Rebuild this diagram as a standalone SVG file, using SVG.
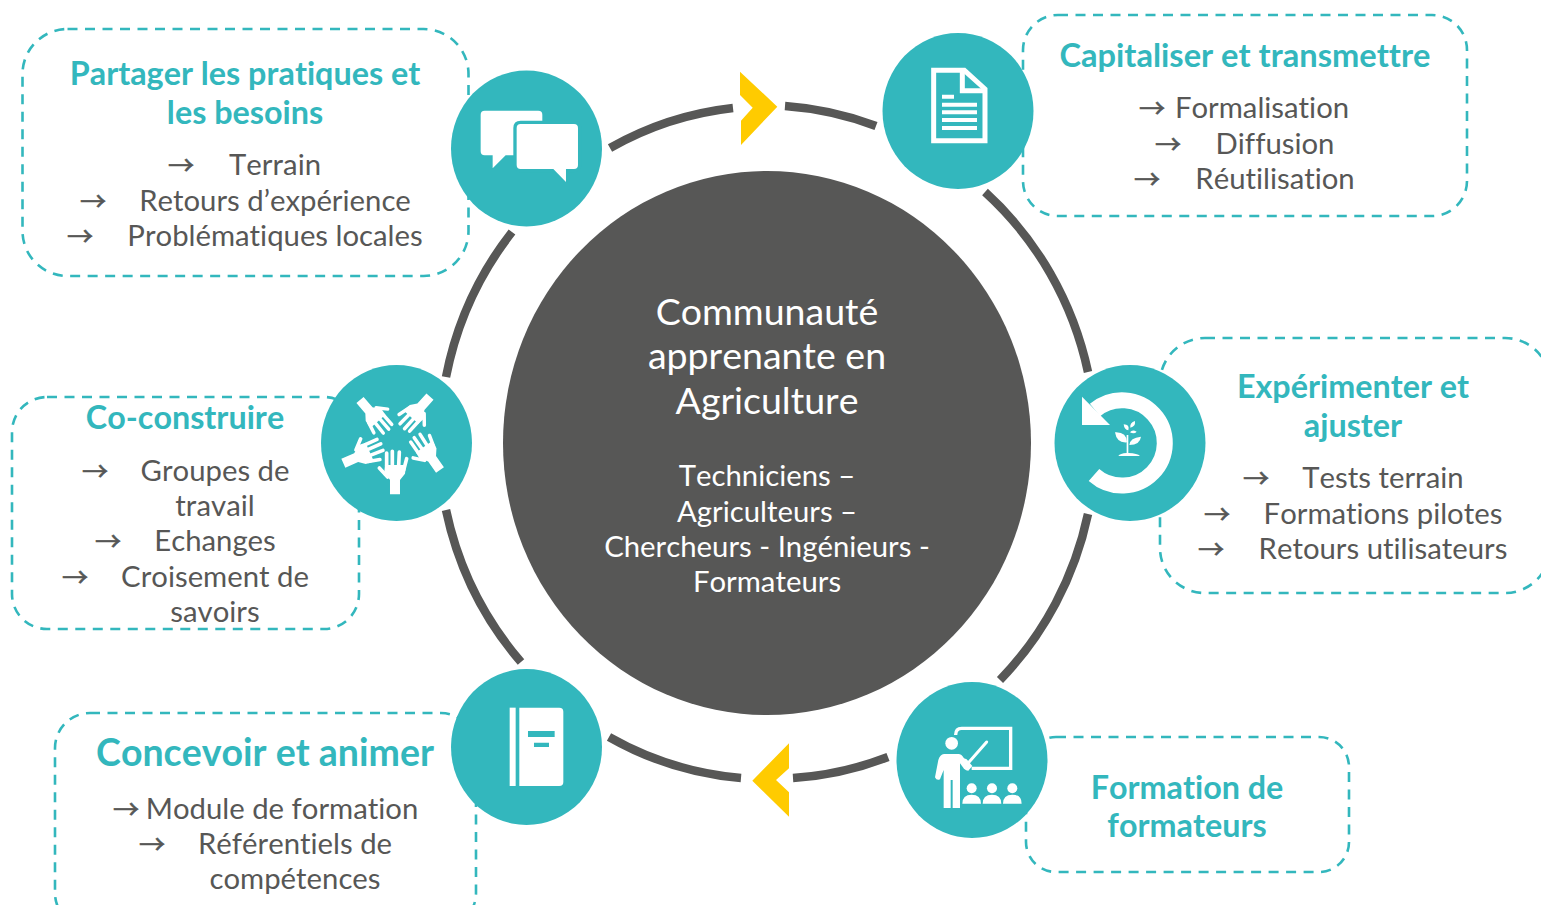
<svg xmlns="http://www.w3.org/2000/svg" width="1541" height="905" viewBox="0 0 1541 905">
<defs>
<style>
text{font-family:Lato,"Noto Sans",sans-serif;text-anchor:middle;font-kerning:none;font-variant-ligatures:none}
.h{fill:#33b7bd;font-weight:700;font-size:32.3px}
.b{fill:#575756;font-size:29.3px}
.a{fill:#575756;stroke:#575756;stroke-width:.6;font-size:26px;font-family:"Noto Sans CJK SC",sans-serif}
.c{fill:#fff;font-size:37.5px}
.d{fill:#fff;font-size:29.3px}
.box{fill:none;stroke:#33b7bd;stroke-width:2.6;stroke-dasharray:10 7.500}
.ic{fill:#33b7bd}
.w{fill:#fff}
.arc{fill:none;stroke:#575756;stroke-width:8.5}
</style>
<g id="hand">
<path class="w" d="M-15 0H15V-43L30 -62L33 -88H-30L-32 -68L-15 -43Z"/>
<path d="M-25 -85L-25 -124M-8 -85V-129M11 -85L13 -127M26 -72L35 -107M-22 -52L-47 -79" fill="none" stroke="#fff" stroke-width="11" stroke-linecap="round"/>
</g>
</defs>
<g id="box-partager"><rect class="box" x="22.500" y="29" width="446" height="247" rx="45"/></g>
<g id="box-capitaliser"><rect class="box" x="1023" y="15" width="444" height="201" rx="35"/></g>
<g id="box-experimenter"><rect class="box" x="1160" y="338" width="390" height="255" rx="45"/></g>
<g id="box-coconstruire"><rect class="box" x="12" y="397" width="347" height="232" rx="35"/></g>
<g id="box-concevoir"><rect class="box" x="55" y="713" width="421" height="215" rx="35"/></g>
<g id="box-formation"><rect class="box" x="1026" y="737" width="323" height="135" rx="30"/></g>

<g id="connectors">
<path class="arc" d="M610 148A328 337 0 0 1 733 108"/>
<path class="arc" d="M785 106A328 337 0 0 1 876 126"/>
<path class="arc" d="M985 192A328 337 0 0 1 1088 372"/>
<path class="arc" d="M1088 514A328 337 0 0 1 1000 680"/>
<path class="arc" d="M888 757A328 337 0 0 1 793 778"/>
<path class="arc" d="M741 778A328 337 0 0 1 609 737"/>
<path class="arc" d="M521 662A328 337 0 0 1 446 510"/>
<path class="arc" d="M446 377A328 337 0 0 1 512 232"/>
<path fill="#ffcb00" d="M740 71.700L777.300 106.700L741 145V120.700L752.700 107.700L740 95Z"/>
<path fill="#ffcb00" d="M789 743.300V768.300L776 780L789 792.300V816.700L752.300 780.700Z"/>
</g>

<g id="center">
<ellipse cx="767" cy="443" rx="264" ry="272" fill="#575756"/>
<text class="c" x="767" y="325">Communauté</text>
<text class="c" x="767" y="369">apprenante en</text>
<text class="c" x="767" y="414">Agriculture</text>
<text class="d" x="767" y="486">Techniciens –</text>
<text class="d" x="767" y="522">Agriculteurs –</text>
<text class="d" x="767" y="557">Chercheurs - Ingénieurs -</text>
<text class="d" x="767" y="592">Formateurs</text>
</g>

<g id="node-partager">
<ellipse class="ic" cx="526.500" cy="148.500" rx="75.500" ry="78"/>
<g transform="translate(440 50) scale(.3333)">
<path class="w" d="M134 182H295Q307 182 307 194V316H197L158 355V316H134Q122 316 122 304V194Q122 182 134 182Z"/>
<path class="w" stroke="#33b7bd" stroke-width="20" paint-order="stroke" d="M242 222H402Q414 222 414 234V345Q414 357 402 357H378V396L340 357H242Q230 357 230 345V234Q230 222 242 222Z"/>
</g>
<text class="h" x="245" y="85">Partager les pratiques et</text>
<text class="h" x="245" y="124">les besoins</text>
<text class="a" x="181" y="175">→</text><text class="b" x="275" y="175">Terrain</text>
<text class="a" x="93" y="211">→</text><text class="b" x="275" y="211">Retours d’expérience</text>
<text class="a" x="80" y="246">→</text><text class="b" x="275" y="246">Problématiques locales</text>
</g>

<g id="node-capitaliser">
<ellipse class="ic" cx="958" cy="111" rx="75.500" ry="78"/>
<g transform="translate(875 25) scale(.3333)">
<path d="M176 136H268L330 192V347H176Z" fill="none" stroke="#fff" stroke-width="15"/>
<path d="M262 136V197H330" fill="none" stroke="#fff" stroke-width="15"/>
<path class="w" d="M201 209H237V221H201ZM201 233H306V245H201ZM201 256H306V268H201ZM201 279H306V291H201ZM201 303H306V315H201Z"/>
</g>
<text class="h" x="1245" y="67" style="font-size:32.600px">Capitaliser et transmettre</text>
<text class="a" x="1152" y="118">→</text><text class="b" x="1262" y="118">Formalisation</text>
<text class="a" x="1168" y="154">→</text><text class="b" x="1275" y="154">Diffusion</text>
<text class="a" x="1147" y="189">→</text><text class="b" x="1275" y="189">Réutilisation</text>
</g>

<g id="node-experimenter">
<ellipse class="ic" cx="1130" cy="443" rx="75.500" ry="78"/>
<g transform="translate(1045 355) scale(.3333)">
<path d="M150 165A128 128 0 1 1 147 360" fill="none" stroke="#fff" stroke-width="48"/>
<path class="w" d="M111 125V210H195Z"/>
<path class="w" d="M220 303Q225 295 245 294V240H250V294Q278 295 285 303Z"/>
<path class="w" d="M210 232Q245 230 246 262Q215 265 210 232ZM288 245Q285 270 253 270Q255 248 288 245ZM236 208Q255 208 250 226Q238 225 236 208ZM270 198Q272 215 256 218Q254 203 270 198ZM275 230Q268 238 255 232Q262 222 275 230Z"/>
</g>
<text class="h" x="1353" y="398">Expérimenter et</text>
<text class="h" x="1353" y="437">ajuster</text>
<text class="a" x="1256" y="488">→</text><text class="b" x="1383" y="488">Tests terrain</text>
<text class="a" x="1217" y="524">→</text><text class="b" x="1383" y="524">Formations pilotes</text>
<text class="a" x="1211" y="559">→</text><text class="b" x="1383" y="559">Retours utilisateurs</text>
</g>

<g id="node-coconstruire">
<ellipse class="ic" cx="396.500" cy="443" rx="75.500" ry="78"/>
<g transform="translate(310 355) scale(.3333)">
<use href="#hand" transform="translate(255 418)"/>
<use href="#hand" transform="translate(390 345) rotate(-35) scale(.96)"/>
<use href="#hand" transform="translate(360 125) rotate(-138) scale(.95)"/>
<use href="#hand" transform="translate(150 135) rotate(139) scale(.95)"/>
<use href="#hand" transform="translate(100 325) rotate(66) scale(.98)"/>
</g>
<text class="h" x="185" y="429">Co-construire</text>
<text class="a" x="95" y="481">→</text><text class="b" x="215" y="481">Groupes de</text>
<text class="b" x="215" y="516">travail</text>
<text class="a" x="108" y="551">→</text><text class="b" x="215" y="551">Echanges</text>
<text class="a" x="75" y="587">→</text><text class="b" x="215" y="587">Croisement de</text>
<text class="b" x="215" y="622">savoirs</text>
</g>

<g id="node-concevoir">
<ellipse class="ic" cx="526.500" cy="747" rx="75.500" ry="78"/>
<g transform="translate(440 660) scale(.3333)">
<rect class="w" x="209" y="143" width="18" height="235"/>
<path class="w" d="M238 143H358Q370 143 370 155V366Q370 378 358 378H238Z"/>
<path class="ic" d="M264 213H344V231H264ZM282 248H327V261H282Z"/>
</g>
<text class="h" x="265" y="766" style="font-size:37.500px">Concevoir et animer</text>
<text class="a" x="126" y="819">→</text><text class="b" x="282" y="819">Module de formation</text>
<text class="a" x="152" y="854">→</text><text class="b" x="295" y="854">Référentiels de</text>
<text class="b" x="295" y="889">compétences</text>
</g>

<g id="node-formation">
<ellipse class="ic" cx="972" cy="760" rx="75.500" ry="78"/>
<g transform="translate(890 680) scale(.3333)">
<path d="M197 165Q197 145 215 145H362V265H245" fill="none" stroke="#fff" stroke-width="10"/>
<circle class="w" cx="185" cy="190" r="19"/>
<path d="M238 245L290 186" fill="none" stroke="#fff" stroke-width="9" stroke-linecap="round"/>
<path class="w" d="M162 222H205Q215 222 222 235L230 238L247 258L235 272Q228 272 222 266L210 250V384H188V300H182V384H161V270L150 298Q140 303 135 292L145 240Q150 224 162 222Z"/>
<circle class="w" cx="245" cy="325" r="15"/><circle class="w" cx="306" cy="325" r="15"/><circle class="w" cx="367" cy="325" r="15"/>
<path class="w" d="M217 371Q217 344 245 344Q273 344 273 371ZM278 371Q278 344 306 344Q334 344 334 371ZM339 371Q339 344 367 344Q395 344 395 371Z"/>
</g>
<text class="h" x="1187" y="799">Formation de</text>
<text class="h" x="1187" y="837">formateurs</text>
</g>
</svg>
